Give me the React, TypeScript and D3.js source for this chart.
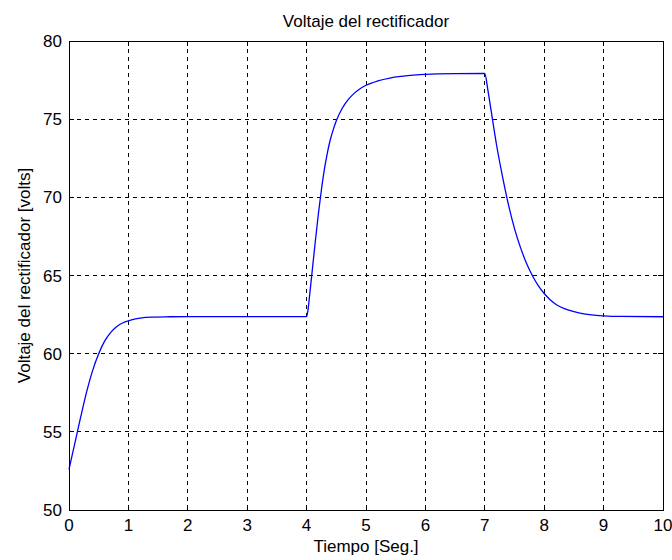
import React from "react";
import * as d3 from "d3";

const timeSec = [0, 0.1, 0.2, 0.3, 0.4, 0.5, 0.6, 0.7, 0.8, 0.9, 1.0, 1.1, 1.2, 1.4, 1.7, 2.0, 3.0, 4.0,
  4.02, 4.05, 4.1, 4.15, 4.2, 4.25, 4.3, 4.35, 4.4, 4.45, 4.5, 4.6, 4.7, 4.8, 4.9, 5.0, 5.2, 5.4, 5.6, 5.8, 6.0, 6.5, 7.0,
  7.05, 7.1, 7.2, 7.3, 7.4, 7.5, 7.6, 7.7, 7.8, 7.9, 8.0, 8.1, 8.2, 8.4, 8.6, 8.8, 9.0, 9.3, 10];
const voltage = [52.6, 54.3, 56.0, 57.6, 58.95, 60.0, 60.8, 61.35, 61.72, 61.96, 62.1, 62.21, 62.28, 62.34, 62.36, 62.37, 62.37, 62.37,
  62.7, 63.7, 65.5, 67.3, 69.0, 70.5, 71.8, 72.85, 73.7, 74.35, 74.9, 75.7, 76.25, 76.65, 76.95, 77.17, 77.45, 77.63, 77.74, 77.82, 77.87, 77.91, 77.92,
  76.9, 75.7, 73.3, 71.3, 69.5, 68.0, 66.8, 65.8, 65.0, 64.35, 63.85, 63.45, 63.15, 62.8, 62.6, 62.48, 62.42, 62.38, 62.36];

const xTicks = [0, 1, 2, 3, 4, 5, 6, 7, 8, 9, 10];
const yTicks = [50, 55, 60, 65, 70, 75, 80];

const title = "Voltaje del rectificador";
const xLabel = "Tiempo [Seg.]";
const yLabel = "Voltaje del rectificador [volts]";

export default function App() {
  const W = 672, H = 560;
  const left = 69, right = 663, top = 41, bottom = 510;
  const x = d3.scaleLinear().domain([0, 10]).range([left, right]);
  const y = d3.scaleLinear().domain([50, 80]).range([bottom, top]);
  const pts = timeSec.map((t, i) => [t, voltage[i]] as [number, number]);
  const line = d3.line<[number, number]>().x(d => x(d[0])).y(d => y(d[1])).curve(d3.curveMonotoneX);
  const font = "'Liberation Sans', Arial, Helvetica, sans-serif";
  const fs = 17;
  const tl = 5;
  return (
    <svg width={W} height={H} style={{ position: "absolute", left: 0, top: 0, background: "#fff" }} fontFamily={font}>
      <rect x={0} y={0} width={W} height={H} fill="#fff" />
      {xTicks.slice(1, -1).map(t => (
        <line key={"gx" + t} x1={x(t)} x2={x(t)} y1={top} y2={bottom} stroke="#000" strokeWidth={1} strokeDasharray="4,4" shapeRendering="crispEdges" />
      ))}
      {yTicks.slice(1, -1).map(t => (
        <line key={"gy" + t} x1={left} x2={right} y1={y(t)} y2={y(t)} stroke="#000" strokeWidth={1} strokeDasharray="4,4" shapeRendering="crispEdges" />
      ))}
      {xTicks.map(t => (
        <g key={"tx" + t}>
          <line x1={x(t)} x2={x(t)} y1={bottom} y2={bottom - tl} stroke="#000" shapeRendering="crispEdges" />
          <line x1={x(t)} x2={x(t)} y1={top} y2={top + tl} stroke="#000" shapeRendering="crispEdges" />
          <text x={x(t)} y={531} textAnchor="middle" fontSize={fs} fill="#000">{t}</text>
        </g>
      ))}
      {yTicks.map(t => (
        <g key={"ty" + t}>
          <line x1={left} x2={left + tl} y1={y(t)} y2={y(t)} stroke="#000" shapeRendering="crispEdges" />
          <line x1={right} x2={right - tl} y1={y(t)} y2={y(t)} stroke="#000" shapeRendering="crispEdges" />
          <text x={62} y={y(t)} dy="0.36em" textAnchor="end" fontSize={fs} fill="#000">{t}</text>
        </g>
      ))}
      <path d={line(pts) || ""} fill="none" stroke="#0000ff" strokeWidth={1.3} />
      <rect x={left} y={top} width={right - left} height={bottom - top} fill="none" stroke="#000" strokeWidth={1} shapeRendering="crispEdges" />
      <text x={(left + right) / 2} y={27} textAnchor="middle" fontSize={fs} fill="#000">{title}</text>
      <text x={(left + right) / 2} y={552} textAnchor="middle" fontSize={fs} fill="#000">{xLabel}</text>
      <text transform={`translate(30, ${(top + bottom) / 2}) rotate(-90)`} textAnchor="middle" fontSize={fs} fill="#000">{yLabel}</text>
    </svg>
  );
}
